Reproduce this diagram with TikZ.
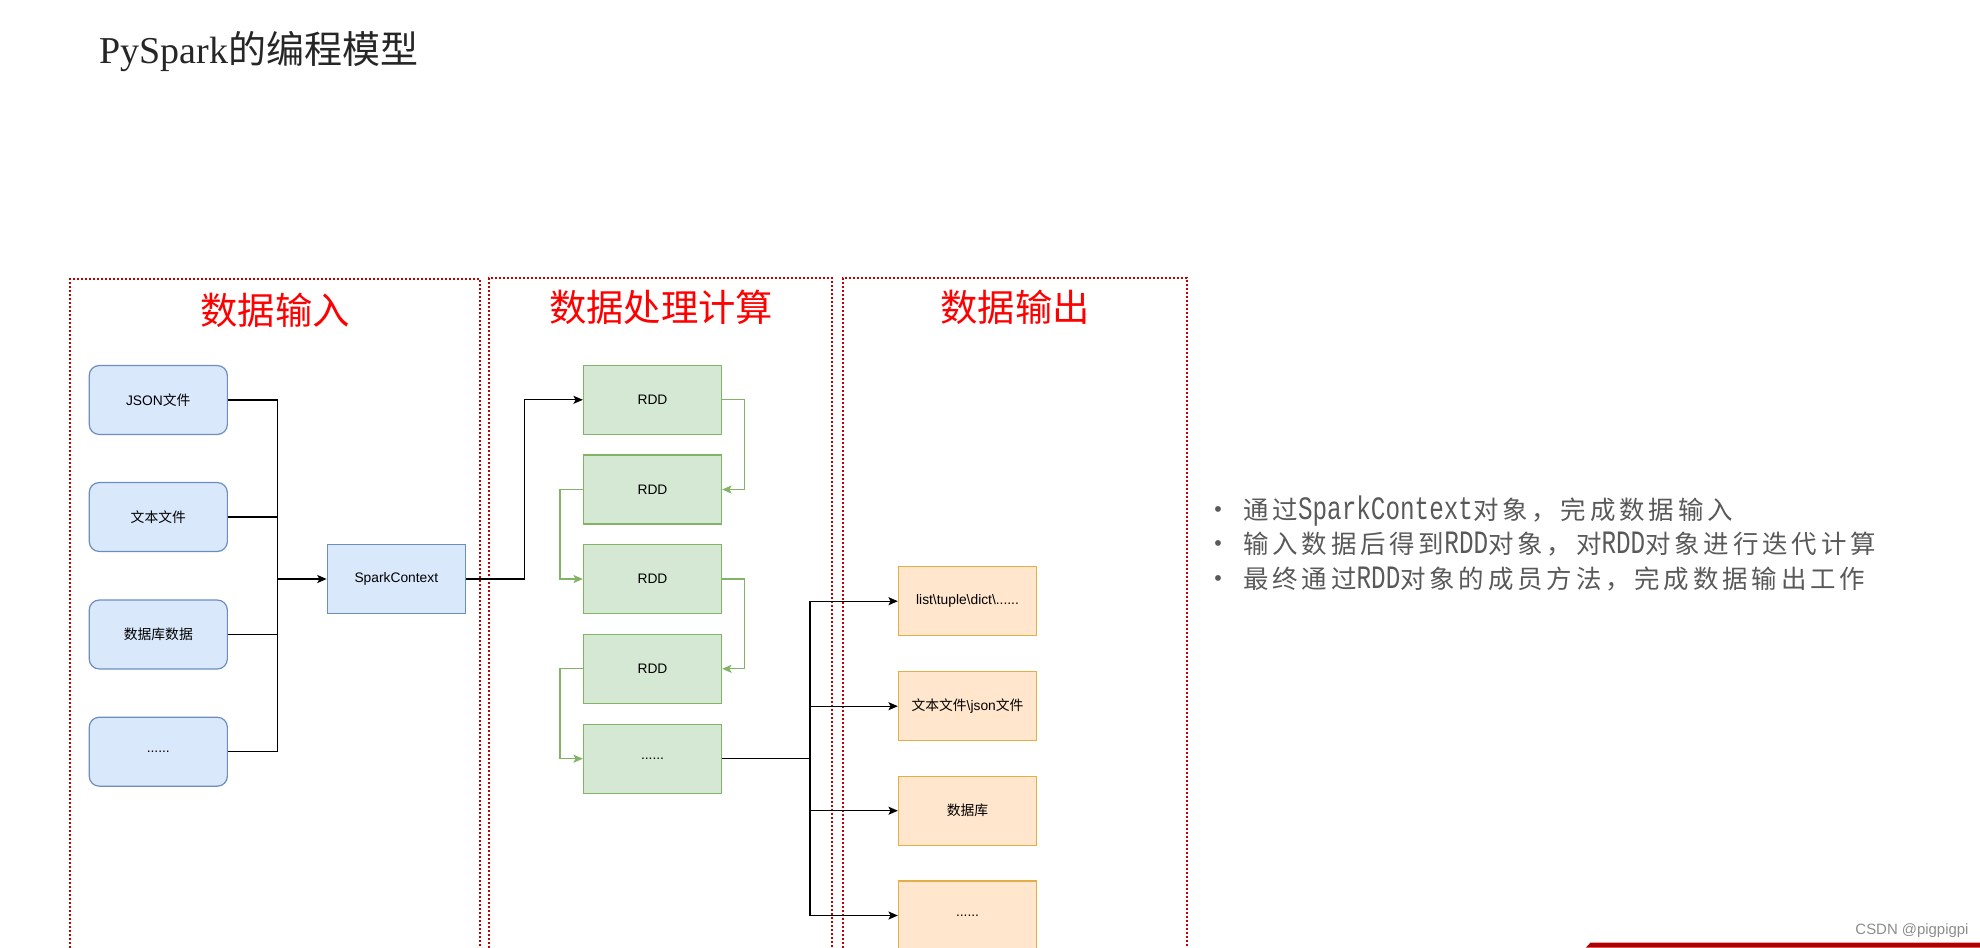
\documentclass[tikz,border=0pt]{standalone}
\usepackage{fontspec}
\setmainfont{Liberation Sans}
\newfontfamily\cjk{Noto Sans CJK SC}
\newfontfamily\cjkls[LetterSpace=15]{Noto Sans CJK SC}
\newfontfamily\lser{Liberation Serif}
\newfontfamily\lmonon[FakeStretch=0.744]{Liberation Mono}
\usetikzlibrary{arrows.meta}
\definecolor{bluefill}{HTML}{DAE8FC}
\definecolor{blueline}{HTML}{6C8EBF}
\definecolor{greenfill}{HTML}{D5E8D4}
\definecolor{greenline}{HTML}{82B366}
\definecolor{orangefill}{HTML}{FFE6CC}
\definecolor{orangeline}{HTML}{E3AE45}
\definecolor{regionred}{HTML}{C00000}
\definecolor{titlegray}{HTML}{262626}
\definecolor{bulletgray}{HTML}{595959}
\definecolor{barred}{HTML}{B20000}
\newcommand{\zhs}[1]{{\cjk #1}}
\newcommand{\bz}[1]{{\cjkls\fontsize{19.1}{22}\selectfont #1}}
\newcommand{\bl}[1]{{\lmonon\fontsize{24.5}{22}\selectfont #1}}
\begin{document}
\begin{tikzpicture}[x=0.75pt,y=-0.75pt,
  boxfont/.style={font=\fontsize{10.35}{12}\selectfont},
  basebox/.style={boxfont, minimum width=103.6pt, minimum height=51.7pt, inner sep=0pt, line width=0.9pt},
  inbox/.style={basebox, draw=blueline, fill=bluefill, rounded corners=7.5pt},
  scbox/.style={basebox, draw=blueline, fill=bluefill},
  rddbox/.style={basebox, draw=greenline, fill=greenfill},
  outbox/.style={basebox, draw=orangeline, fill=orangefill},
  conn/.style={line width=1pt, black},
  arr/.style={conn, -{Stealth[length=7pt,width=6pt,inset=1.5pt]}},
  garr/.style={line width=1pt, draw=greenline, -{Stealth[length=7pt,width=6pt,inset=1.5pt,fill=greenline]}},
  region/.style={draw=regionred, line width=1.5pt, dash pattern=on 1.5pt off 1.5pt},
  heading/.style={text=red, font=\cjk\fontsize{28}{30}\selectfont},
  bullettext/.style={anchor=base west, text=bulletgray, inner sep=0pt},
  bulletdot/.style={anchor=base, text=bulletgray, font=\fontsize{16}{18}\selectfont, inner sep=0pt}
]
\path[use as bounding box] (0,0) rectangle (1980,947);
\clip (0,0) rectangle (1980,947);

% title
\node[anchor=base west, inner sep=0pt, text=titlegray, font=\fontsize{28.5}{30}\selectfont] (title) at (99,63) {{\lser PySpark}\zhs{的编程模型}};

% regions
\draw[region] (70,960) -- (70,279) -- (480,279) -- (480,960);
\draw[region] (489,960) -- (489,278) -- (832,278) -- (832,960);
\draw[region] (843,960) -- (843,278) -- (1187,278) -- (1187,960);

\node[heading] (h1) at (275,310) {数据输入};
\node[heading] (h2) at (661,307) {数据处理计算};
\node[heading] (h3) at (1015,307) {数据输出};

% input boxes
\node[inbox] (json) at (158.3,400) {JSON\zhs{文件}};
\node[inbox] (txt) at (158.3,517) {\zhs{文本文件}};
\node[inbox] (db) at (158.3,634.5) {\zhs{数据库数据}};
\node[inbox] (indots) at (158.3,751.7) {......};
\node[scbox] (sc) at (396.3,579) {SparkContext};

\coordinate (busL) at (277.3,579);
\draw[conn] (json.east) -| (busL);
\draw[conn] (txt.east) -| (busL);
\draw[conn] (db.east) -| (busL);
\draw[conn] (indots.east) -| (busL);
\draw[arr] (busL) -- (sc.west);

% RDD boxes
\node[rddbox] (r1) at (652.5,399.8) {RDD};
\node[rddbox] (r2) at (652.5,489.5) {RDD};
\node[rddbox] (r3) at (652.5,579) {RDD};
\node[rddbox] (r4) at (652.5,668.8) {RDD};
\node[rddbox] (r5) at (652.5,758.7) {......};

\coordinate (j1) at (524.3,579);
\draw[arr] (sc.east) -- (j1) |- (r1.west);

\draw[garr] (r1.east) -- ++(22.6,0) |- (r2.east);
\draw[garr] (r2.west) -- ++(-23,0) |- (r3.west);
\draw[garr] (r3.east) -- ++(22.6,0) |- (r4.east);
\draw[garr] (r4.west) -- ++(-23,0) |- (r5.west);

% output boxes
\node[outbox] (o1) at (967.5,601.2) {list\textbackslash tuple\textbackslash dict\textbackslash ......};
\node[outbox] (o2) at (967.5,706.2) {\zhs{文本文件}\textbackslash json\zhs{文件}};
\node[outbox] (o3) at (967.5,810.7) {\zhs{数据库}};
\node[outbox] (o4) at (967.5,915.5) {......};

\coordinate (busR) at (810,758.7);
\draw[conn] (r5.east) -- (busR);
\draw[arr] (busR) |- (o1.west);
\draw[arr] (busR) |- (o2.west);
\draw[arr] (busR) |- (o3.west);
\draw[arr] (busR) |- (o4.west);

% bullets
\node[bulletdot] (d1) at (1218,516.5) {•};
\node[bulletdot] (d2) at (1218,550.5) {•};
\node[bulletdot] (d3) at (1218,585.5) {•};
\node[bullettext] (b1) at (1243,519.5) {\bz{通过}\bl{SparkContext}\bz{对象，完成数据输入}};
\node[bullettext] (b2) at (1243,553.5) {\bz{输入数据后得到}\bl{RDD}\bz{对象，对}\bl{RDD}\bz{对象进行迭代计算}};
\node[bullettext] (b3) at (1243,588.5) {\bz{最终通过}\bl{RDD}\bz{对象的成员方法，完成数据输出工作}};

% watermark and bar
\fill[barred] (1586,947.5) -- (1590.5,942.6) -- (1981,942.6) -- (1981,947.5) -- cycle;
\node[text=black!45, font=\fontsize{11.2}{12}\selectfont, inner sep=0pt] (wm) at (1912,931) {CSDN @pigpigpi};
\end{tikzpicture}
\end{document}
